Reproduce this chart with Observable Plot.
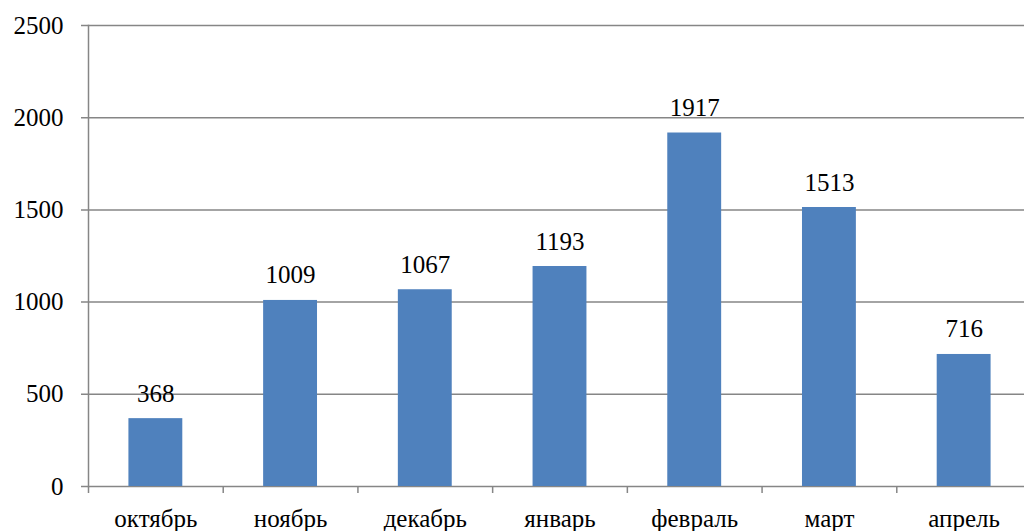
<!DOCTYPE html>
<html><head><meta charset="utf-8">
<script src="https://cdn.jsdelivr.net/npm/d3@7"></script>
<script src="https://cdn.jsdelivr.net/npm/@observablehq/plot@0.6"></script>
<style>body{margin:0;background:#fff;overflow:hidden}svg{display:block}svg text{font-family:"Liberation Serif","Times New Roman",serif !important}</style>
</head><body><div id="chart"></div>
<script>
const months = ["октябрь","ноябрь","декабрь","январь","февраль","март","апрель"];
const values = [368, 1009, 1067, 1193, 1917, 1513, 716];
const yTicks = [0, 500, 1000, 1500, 2000, 2500];
const data = months.map((m, i) => ({month: m, value: values[i]}));

const W = 1024, H = 531, mL = 88, mR = -7;
const step = (W - mL - mR) / months.length;
const grid = "#868686";
const serif = "Liberation Serif, Times New Roman, serif";

const chart = Plot.plot({
  width: W, height: H,
  marginLeft: mL, marginRight: mR, marginTop: 25, marginBottom: 45,
  style: {fontFamily: serif, fontSize: "25px", color: "#000", background: "#fff"},
  x: {domain: months, paddingInner: 0.6, paddingOuter: 0.3, round: false, label: null},
  y: {domain: [0, 2500], label: null},
  marks: [
    Plot.ruleY(yTicks, {stroke: grid, strokeWidth: 1.5, insetLeft: -7}),
    Plot.frame({anchor: "left", stroke: grid, strokeWidth: 1.5}),
    Plot.barY(data, {x: "month", y: "value", fill: "#4F81BD"}),
    Plot.text(data, {x: "month", y: "value", text: d => String(d.value), dy: -25, lineAnchor: "middle", fill: "#000", fontSize: 25, fontFamily: serif}),
    Plot.axisY({ticks: yTicks, tickSize: 0, tickPadding: 25, tickFormat: d => String(d), fontSize: 25, fontFamily: serif, label: null}),
    Plot.axisX({tickSize: 7, tickPadding: 0, tickFormat: () => "", stroke: grid, strokeWidth: 1.5, dx: -step / 2, label: null}),
    Plot.axisX({tickSize: 0, tickPadding: 23, fontSize: 25, fontFamily: serif, label: null})
  ]
});
document.getElementById("chart").appendChild(chart);
</script></body></html>
